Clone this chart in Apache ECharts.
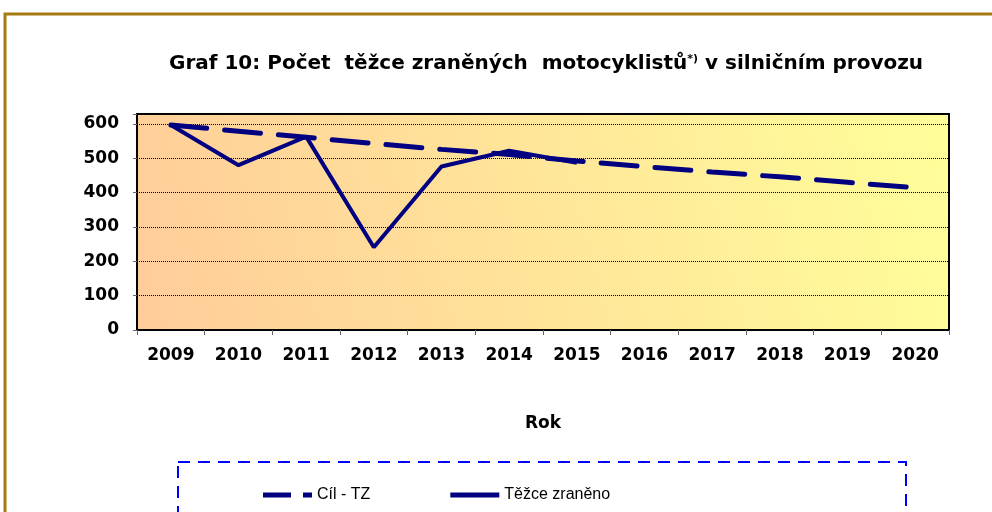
<!DOCTYPE html>
<html>
<head>
<meta charset="utf-8">
<script src="https://cdn.jsdelivr.net/npm/echarts@6/dist/echarts.min.js"></script>
<style>
  html, body { margin: 0; padding: 0; background: #fff; }
  #chart { width: 992px; height: 512px; }
</style>
</head>
<body>
<div id="chart"></div>
<script>
// roky
const years = ['2009', '2010', '2011', '2012', '2013', '2014', '2015', '2016', '2017', '2018', '2019', '2020'];
// cil - tezce zraneni (cilova linie)
const cilTZ = [597, 579, 561, 543, 526, 511, 492, 476, 460, 446, 430, 414];
// skutecnost
const tezceZraneno = [597, 480, 563, 241, 476, 522, 487];
const yTicks = [0, 100, 200, 300, 400, 500, 600];

const boldFont = '"DejaVu Sans", sans-serif';
const font = 'Arial, "Liberation Sans", sans-serif';
const myChart = echarts.init(document.getElementById('chart'));

const option = {
  animation: false,
  textStyle: { fontFamily: font },
  title: {
    text: 'Graf 10: Počet  těžce zraněných  motocyklistů{sup|*)} v silničním provozu',
    left: 164,
    top: 49,
    textStyle: {
      fontFamily: boldFont,
      fontSize: 20,
      fontWeight: 'bold',
      color: '#000',
      rich: {
        sup: { fontFamily: boldFont, fontSize: 11, fontWeight: 'bold', verticalAlign: 'top', padding: [0, 0, 9, 0] }
      }
    }
  },
  graphic: [
    {
      type: 'rect',
      shape: { x: 5, y: 14, width: 1100, height: 700 },
      style: { fill: null, stroke: '#A67A12', lineWidth: 3 },
      silent: true
    },
    {
      type: 'rect',
      shape: { x: 178, y: 462, width: 728, height: 100 },
      style: { fill: null, stroke: '#0000FF', lineWidth: 2, lineDash: [12, 8] },
      silent: true
    }
  ],
  legend: {
    left: 258,
    top: 482,
    itemWidth: 49,
    itemHeight: 5,
    itemGap: 80,
    textStyle: { fontFamily: font, fontSize: 16, color: '#000' },
    data: [
      { name: 'Cíl - TZ', icon: 'path://M0,0h28v5h-28zM40,0h9v5h-9z' },
      { name: 'Těžce zraněno', icon: 'rect' }
    ]
  },
  grid: {
    left: 137,
    right: 43,
    top: 114,
    bottom: 182,
    show: true,
    borderColor: '#000',
    borderWidth: 2,
    backgroundColor: new echarts.graphic.LinearGradient(0, 1, 1, 0, [
      { offset: 0, color: '#FFCC99' },
      { offset: 1, color: '#FFFF99' }
    ])
  },
  xAxis: {
    type: 'category',
    data: years,
    boundaryGap: true,
    name: 'Rok',
    nameLocation: 'middle',
    nameGap: 85,
    nameTextStyle: { fontFamily: boldFont, fontSize: 17, fontWeight: 'bold', color: '#000' },
    axisLine: { lineStyle: { color: '#000', width: 2 } },
    axisTick: { show: true, length: 5, lineStyle: { color: '#666' } },
    axisLabel: { fontFamily: boldFont, fontSize: 17, fontWeight: 'bold', color: '#000', margin: 17 },
    splitLine: { show: false }
  },
  yAxis: {
    type: 'value',
    min: 0,
    max: 629,
    interval: 100,
    axisLine: { show: true, lineStyle: { color: '#000', width: 2 } },
    axisTick: { show: true, length: 4, lineStyle: { color: '#666' } },
    axisLabel: {
      fontFamily: boldFont,
      fontSize: 17,
      fontWeight: 'bold',
      color: '#000',
      margin: 18,
      formatter: v => (yTicks.indexOf(v) >= 0 ? String(v) : '')
    },
    splitLine: { show: true, lineStyle: { color: '#000', type: 'dotted', width: 1 } }
  },
  series: [
    {
      name: 'Cíl - TZ',
      type: 'line',
      data: cilTZ,
      symbol: 'none',
      lineStyle: { color: '#000080', width: 5, type: [36, 18], cap: 'round' },
      itemStyle: { color: '#000080' }
    },
    {
      name: 'Těžce zraněno',
      type: 'line',
      data: tezceZraneno,
      symbol: 'none',
      lineStyle: { color: '#000080', width: 4 },
      itemStyle: { color: '#000080' }
    }
  ]
};
myChart.setOption(option);
</script>
</body>
</html>
